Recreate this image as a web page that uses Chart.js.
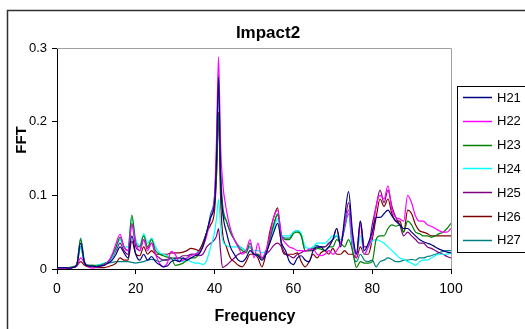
<!DOCTYPE html>
<html>
<head>
<meta charset="utf-8">
<script src="https://cdn.jsdelivr.net/npm/chart.js@4/dist/chart.umd.min.js"></script>
<style>
html,body{margin:0;padding:0;background:#fff;overflow:hidden;}
canvas{display:block;}
</style>
</head>
<body>
<canvas id="c" width="525" height="329"></canvas>
<script>
const chartTitle = "Impact2";
const xTitle = "Frequency";
const yTitle = "FFT";
const xTicks = [0, 20, 40, 60, 80, 100];
const yTicks = [0, 0.1, 0.2, 0.3];
const seriesNames = ["H21", "H22", "H23", "H24", "H25", "H26", "H27"];
const seriesColors = ["#000080", "#ff00ff", "#008000", "#00ffff", "#800080", "#800000", "#008080"];

const frequency = [
  0,1,2,3,4,5,6,7,8,9,10,11,12,13,14,15,16,17,18,19,
  20,21,22,23,24,25,26,27,28,29,30,31,32,33,34,35,36,37,38,39,
  40,40.5,41,41.5,
  42,43,44,45,46,47,48,49,50,51,52,53,54,55,56,57,58,59,60,61,
  62,63,64,65,66,67,68,69,70,71,72,73,74,75,76,77,78,79,80,81,
  82,83,84,85,86,87,88,89,90,91,92,93,94,95,96,97,98,99,100
];

const H21 = [
  0.002,0.002,0.002,0.001,0.002,0.005,0.035,0.008,0.004,0.004,0.003,0.004,0.005,0.008,0.012,0.02,0.03,0.022,0.015,0.045,
  0.02,0.012,0.02,0.012,0.017,0.01,0.006,0.003,0.004,0.01,0.012,0.01,0.015,0.012,0.015,0.018,0.02,0.03,0.05,0.07,
  0.09,0.15,0.26,0.13,
  0.08,0.05,0.03,0.02,0.012,0.01,0.015,0.025,0.02,0.018,0.012,0.02,0.035,0.05,0.062,0.035,0.025,0.01,0.006,0.015,
  0.018,0.012,0.01,0.025,0.03,0.03,0.025,0.03,0.04,0.055,0.03,0.07,0.105,0.05,0.02,0.065,0.025,0.035,0.05,0.07,
  0.07,0.075,0.08,0.072,0.065,0.06,0.055,0.055,0.05,0.045,0.04,0.037,0.035,0.033,0.03,0.027,0.025,0.023,0.022
];
const H22 = [
  0.002,0.001,0.001,0.001,0.002,0.004,0.015,0.008,0.003,0.001,0.002,0.004,0.006,0.01,0.02,0.035,0.047,0.03,0.025,0.06,
  0.035,0.025,0.04,0.025,0.035,0.02,0.008,0.003,0.008,0.024,0.02,0.01,0.012,0.015,0.018,0.02,0.022,0.03,0.045,0.07,
  0.1,0.18,0.288,0.17,
  0.12,0.08,0.055,0.04,0.03,0.02,0.025,0.04,0.015,0.035,0.015,0.025,0.045,0.07,0.08,0.045,0.035,0.03,0.028,0.025,
  0.025,0.024,0.027,0.027,0.02,0.018,0.02,0.025,0.02,0.025,0.035,0.06,0.08,0.04,0.015,0.06,0.02,0.03,0.045,0.085,
  0.1,0.095,0.113,0.08,0.07,0.068,0.065,0.1,0.09,0.072,0.065,0.065,0.06,0.058,0.055,0.052,0.05,0.05,0.055
];
const H23 = [
  0.001,0.001,0.001,0.002,0.003,0.006,0.04,0.01,0.005,0.005,0.004,0.005,0.007,0.01,0.018,0.03,0.043,0.03,0.025,0.073,
  0.035,0.03,0.045,0.03,0.04,0.025,0.02,0.018,0.016,0.015,0.005,0.006,0.008,0.012,0.015,0.015,0.02,0.03,0.05,0.07,
  0.09,0.13,0.21,0.12,
  0.08,0.065,0.05,0.04,0.03,0.025,0.022,0.035,0.02,0.02,0.015,0.02,0.04,0.06,0.075,0.045,0.04,0.04,0.048,0.05,
  0.045,0.025,0.025,0.028,0.028,0.027,0.025,0.03,0.03,0.04,0.035,0.03,0.04,0.025,0.002,0.01,0.008,0.008,0.01,0.04,
  0.045,0.045,0.055,0.06,0.058,0.06,0.05,0.065,0.06,0.05,0.048,0.045,0.045,0.043,0.045,0.048,0.05,0.055,0.062
];
const H24 = [
  0.001,0.001,0.002,0.002,0.003,0.005,0.03,0.008,0.005,0.004,0.005,0.006,0.008,0.01,0.015,0.028,0.04,0.03,0.03,0.07,
  0.04,0.032,0.048,0.035,0.042,0.03,0.022,0.02,0.018,0.015,0.012,0.012,0.01,0.012,0.01,0.008,0.008,0.006,0.012,0.03,
  0.05,0.07,0.095,0.06,
  0.04,0.032,0.03,0.03,0.03,0.028,0.025,0.03,0.025,0.025,0.022,0.025,0.04,0.055,0.068,0.045,0.045,0.045,0.05,0.052,
  0.048,0.03,0.028,0.03,0.035,0.035,0.035,0.04,0.045,0.045,0.04,0.06,0.08,0.035,0.02,0.045,0.02,0.03,0.038,0.04,
  0.038,0.035,0.03,0.025,0.02,0.015,0.013,0.01,0.008,0.005,0.01,0.012,0.012,0.015,0.018,0.02,0.02,0.02,0.022
];
const H25 = [
  0.001,0.001,0.002,0.002,0.002,0.005,0.03,0.008,0.004,0.004,0.004,0.005,0.007,0.01,0.015,0.025,0.035,0.025,0.02,0.062,
  0.03,0.025,0.04,0.028,0.035,0.02,0.015,0.012,0.012,0.015,0.014,0.015,0.018,0.018,0.02,0.02,0.018,0.02,0.03,0.035,
  0.04,0.045,0.055,0.025,
  0.002,0.005,0.01,0.015,0.02,0.022,0.025,0.03,0.02,0.02,0.015,0.02,0.025,0.032,0.035,0.03,0.02,0.018,0.015,0.02,
  0.022,0.025,0.025,0.025,0.028,0.03,0.03,0.035,0.04,0.055,0.035,0.06,0.09,0.045,0.02,0.065,0.03,0.03,0.06,0.085,
  0.107,0.09,0.107,0.085,0.07,0.06,0.045,0.05,0.045,0.04,0.035,0.035,0.03,0.028,0.025,0.022,0.02,0.017,0.015
];
const H26 = [
  0.001,0.001,0.001,0.001,0.002,0.004,0.01,0.005,0.003,0.003,0.002,0.002,0.002,0.003,0.005,0.008,0.015,0.012,0.012,0.038,
  0.02,0.018,0.03,0.02,0.025,0.02,0.02,0.02,0.02,0.022,0.022,0.022,0.023,0.025,0.028,0.027,0.025,0.035,0.05,0.06,
  0.08,0.13,0.213,0.1,
  0.05,0.03,0.015,0.01,0.005,0.003,0.01,0.02,0.02,0.015,0.003,0.02,0.05,0.07,0.083,0.03,0.02,0.02,0.02,0.022,
  0.01,0.003,0.01,0.02,0.015,0.022,0.025,0.02,0.028,0.02,0.02,0.025,0.02,0.02,0.015,0.03,0.02,0.02,0.04,0.07,
  0.095,0.085,0.095,0.075,0.065,0.065,0.05,0.08,0.075,0.06,0.052,0.05,0.048,0.045,0.045,0.045,0.045,0.045,0.045
];
const H27 = [
  0.001,0.002,0.002,0.001,0.002,0.005,0.042,0.008,0.005,0.005,0.005,0.006,0.007,0.008,0.009,0.01,0.01,0.01,0.01,0.009,
  0.008,0.009,0.01,0.012,0.013,0.012,0.01,0.012,0.013,0.014,0.015,0.015,0.014,0.015,0.02,0.02,0.025,0.035,0.05,0.075,
  0.1,0.16,0.265,0.14,
  0.09,0.065,0.05,0.04,0.032,0.028,0.025,0.03,0.02,0.02,0.015,0.02,0.04,0.06,0.073,0.045,0.042,0.042,0.05,0.052,
  0.045,0.025,0.025,0.03,0.032,0.03,0.03,0.035,0.04,0.045,0.035,0.055,0.075,0.025,0.01,0.02,0.012,0.01,0.012,0.003,
  0.01,0.012,0.015,0.013,0.01,0.01,0.012,0.012,0.013,0.012,0.015,0.015,0.017,0.018,0.02,0.022,0.024,0.025,0.025
];

const seriesValues = [H21, H22, H23, H24, H25, H26, H27];
const FONT = "'Liberation Sans', Arial, sans-serif";

const datasets = seriesNames.map((name, i) => ({
  label: name,
  data: frequency.map((f, j) => ({x: f, y: seriesValues[i][j]})),
  borderColor: seriesColors[i],
  backgroundColor: seriesColors[i],
  borderWidth: 1.2,
  pointRadius: 0,
  fill: false,
  cubicInterpolationMode: 'monotone'
}));

const decor = {
  id: 'decor',
  beforeDatasetsDraw(chart) {
    const ctx = chart.ctx, a = chart.chartArea;
    ctx.save();
    ctx.strokeStyle = '#a0a0a0';
    ctx.lineWidth = 1;
    ctx.beginPath();
    ctx.moveTo(a.left, Math.round(a.top) + 0.5);
    ctx.lineTo(Math.round(a.right) + 0.5, Math.round(a.top) + 0.5);
    ctx.lineTo(Math.round(a.right) + 0.5, a.bottom);
    ctx.stroke();
    ctx.restore();
  },
  afterDraw(chart) {
    const ctx = chart.ctx;
    ctx.save();
    ctx.strokeStyle = '#303030';
    ctx.lineWidth = 1.5;
    ctx.strokeRect(7.5, 10.5, 700, 500);
    ctx.fillStyle = '#000';
    ctx.font = "bold 17px " + FONT;
    ctx.textAlign = 'center';
    ctx.textBaseline = 'middle';
    ctx.fillText(chartTitle, 268, 33);
    ctx.font = "bold 16px " + FONT;
    ctx.fillText(xTitle, 255, 317);
    ctx.save();
    ctx.translate(22, 140);
    ctx.rotate(-Math.PI / 2);
    ctx.font = "bold 15px " + FONT;
    ctx.fillText(yTitle, 0, 0);
    ctx.restore();
    ctx.strokeStyle = '#000';
    ctx.lineWidth = 1;
    ctx.strokeRect(457.5, 86.5, 100, 166);
    ctx.font = "13px " + FONT;
    ctx.textAlign = 'left';
    chart.data.datasets.forEach((ds, i) => {
      const y = 97 + i * 23.8;
      ctx.strokeStyle = ds.borderColor;
      ctx.lineWidth = 1.5;
      ctx.beginPath();
      ctx.moveTo(463, Math.round(y) + 0.5);
      ctx.lineTo(492, Math.round(y) + 0.5);
      ctx.stroke();
      ctx.fillStyle = '#000';
      ctx.fillText(ds.label, 497, y + 1);
    });
    ctx.restore();
  }
};

new Chart(document.getElementById('c'), {
  type: 'line',
  data: { datasets },
  plugins: [decor],
  options: {
    responsive: false,
    devicePixelRatio: 1,
    animation: false,
    layout: { padding: { left: 0, top: 48, right: 74, bottom: 0 } },
    plugins: { legend: { display: false }, title: { display: false }, tooltip: { enabled: false } },
    scales: {
      x: {
        type: 'linear',
        min: xTicks[0], max: xTicks[xTicks.length - 1],
        afterFit: s => { s.height = 60; },
        afterBuildTicks: s => { s.ticks = xTicks.map(v => ({value: v})); },
        ticks: { color: '#000', font: { family: FONT, size: 14 }, padding: 7, maxRotation: 0, autoSkip: false },
        grid: { drawOnChartArea: false, tickLength: 5, color: '#000' },
        border: { color: '#000', width: 1 }
      },
      y: {
        min: yTicks[0], max: yTicks[yTicks.length - 1],
        afterFit: s => { s.width = 57; },
        afterBuildTicks: s => { s.ticks = yTicks.map(v => ({value: v})); },
        ticks: { color: '#000', font: { family: FONT, size: 13 }, padding: 5, callback: v => String(Math.round(v * 10) / 10) },
        grid: { drawOnChartArea: false, tickLength: 5, color: '#000' },
        border: { color: '#000', width: 1 }
      }
    }
  }
});
</script>
</body>
</html>
